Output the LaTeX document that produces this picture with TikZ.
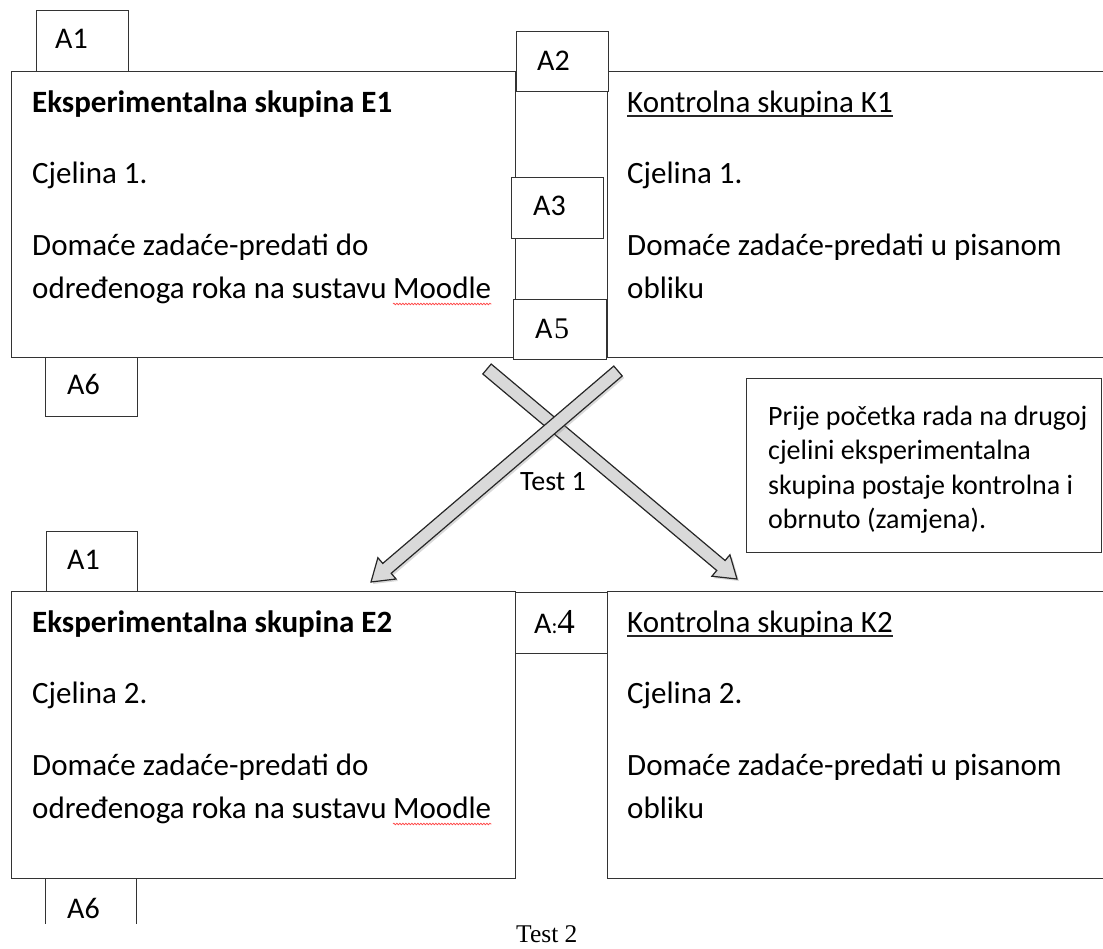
\documentclass[tikz,border=0pt]{standalone}
\usepackage{fontspec}
\setmainfont{Carlito}
\newfontfamily\tmr{Liberation Serif}
\usetikzlibrary{calc,shadows,decorations.pathmorphing}
\begin{document}
\begin{tikzpicture}[x=1pt,y=-1pt,
  frame/.style={draw=black!80, line width=1.3pt, fill=white, inner sep=0pt, anchor=north west},
  txt/.style={inner sep=0pt, anchor=base west, font=\fontsize{31}{37}\selectfont},
  lbl/.style={inner sep=0pt, anchor=base west, font=\fontsize{30}{36}\selectfont},
  ntxt/.style={inner sep=0pt, anchor=base west, font=\fontsize{28}{34}\selectfont},
  barrow/.style={draw=black!85, line width=1.2pt, fill=gray!30, line join=miter,
    drop shadow={opacity=0.3, shadow xshift=2pt, shadow yshift=-2pt}},
  squig/.style={draw=red!80, line width=0.6pt, decorate, decoration={snake, amplitude=0.9pt, segment length=3pt}},
  uline/.style={line width=1.2pt, draw=black!85},
]
\useasboundingbox (0,0) rectangle (1103,948);
\clip (0,0) rectangle (1103,948);

% ---------- top groups ----------
\node[frame, minimum width=504pt, minimum height=286pt] (e1) at (11,71) {};
\node[frame, minimum width=520pt, minimum height=286pt] (k1) at (607,71) {};
\node[frame, minimum width=92pt, minimum height=61pt] (a1t) at (36,10) {};
\node[frame, minimum width=92pt, minimum height=59pt] (a6t) at (45,357) {};
\node[frame, minimum width=92pt, minimum height=60pt] (a2) at (516,31) {};
\node[frame, minimum width=92pt, minimum height=61pt] (a3) at (511,177) {};
\node[frame, minimum width=93pt, minimum height=60pt] (a5) at (513,299) {};

\node[lbl] (a1tt) at ([shift={(19,38)}]a1t.north west) {A1};
\node[lbl] (a6tt) at ([shift={(22,37)}]a6t.north west) {A6};
\node[lbl] (a2tt) at ([shift={(21,39)}]a2.north west) {A2};
\node[lbl] (a3tt) at ([shift={(22,38)}]a3.north west) {A3};
\node[lbl] (a5tt) at ([shift={(22,39)}]a5.north west) {A\kern1.5pt{\tmr 5}};

\node[txt] (e1h) at (32,112) {\bfseries Eksperimentalna skupina E1};
\node[txt] (e1c) at (32,183) {Cjelina 1.};
\node[txt] (e1d) at (32,255) {Domaće zadaće-predati do};
\node[txt] (e1o) at (32,298) {određenoga roka na sustavu};
\node[txt] (e1m) at ([xshift=6pt]e1o.base east) {Moodle};
\draw[squig] ([yshift=-6pt]e1m.base west) -- ([yshift=-6pt]e1m.base east);

\node[txt] (k1h) at (627,112) {Kontrolna skupina K1};
\draw[uline] ([yshift=-4pt]k1h.base west) -- ([yshift=-4pt]k1h.base east);
\node[txt] (k1c) at (627,183) {Cjelina 1.};
\node[txt] (k1d) at (627,255) {Domaće zadaće-predati u pisanom};
\node[txt] (k1o) at (627,298) {obliku};

% ---------- note ----------
\node[frame, minimum width=355pt, minimum height=174pt] (note) at (746,378) {};
\node[ntxt] (n1) at (768,425) {Prije početka rada na drugoj};
\node[ntxt] (n2) at (768,459) {cjelini eksperimentalna};
\node[ntxt] (n3) at (768,494) {skupina postaje kontrolna i};
\node[ntxt] (n4) at (768,528) {obrnuto (zamjena).};

% ---------- bottom groups ----------
\node[frame, minimum width=504pt, minimum height=287pt] (e2) at (11,591) {};
\node[frame, minimum width=520pt, minimum height=287pt] (k2) at (607,591) {};
\node[frame, minimum width=91pt, minimum height=60pt] (a1b) at (46,531) {};
\node[frame, minimum width=92pt, minimum height=61pt] (a4) at (515,592) {};
\begin{scope}
  \clip (0,0) rectangle (1103,923);
  \node[frame, minimum width=91pt, minimum height=60pt] (a6b) at (45,878) {};
\end{scope}

\node[lbl] (a1bt) at ([shift={(21,38)}]a1b.north west) {A1};
\node[lbl] (a4t) at ([shift={(19,41)}]a4.north west) {A{\fontsize{22}{22}\selectfont:}{\tmr\fontsize{35}{35}\selectfont 4}};
\node[lbl] (a6bt) at ([shift={(22,40)}]a6b.north west) {A6};

\node[txt] (e2h) at (32,632) {\bfseries Eksperimentalna skupina E2};
\node[txt] (e2c) at (32,703) {Cjelina 2.};
\node[txt] (e2d) at (32,775) {Domaće zadaće-predati do};
\node[txt] (e2o) at (32,818) {određenoga roka na sustavu};
\node[txt] (e2m) at ([xshift=6pt]e2o.base east) {Moodle};
\draw[squig] ([yshift=-6pt]e2m.base west) -- ([yshift=-6pt]e2m.base east);

\node[txt] (k2h) at (627,632) {Kontrolna skupina K2};
\draw[uline] ([yshift=-4pt]k2h.base west) -- ([yshift=-4pt]k2h.base east);
\node[txt] (k2c) at (627,703) {Cjelina 2.};
\node[txt] (k2d) at (627,775) {Domaće zadaće-predati u pisanom};
\node[txt] (k2o) at (627,818) {obliku};

% ---------- crossing arrows ----------
\coordinate (ta) at (487,369);
\coordinate (ha) at (737,579);
\coordinate (ba) at ($(ha)!21pt!(ta)$);
\draw[barrow] ($(ta)!6.5pt!90:(ha)$) -- ($(ba)!6.5pt!-90:(ta)$) -- ($(ba)!14pt!-90:(ta)$) -- (ha)
  -- ($(ba)!14pt!90:(ta)$) -- ($(ba)!6.5pt!90:(ta)$) -- ($(ta)!6.5pt!-90:(ha)$) -- cycle;

\coordinate (tb) at (618,371);
\coordinate (hb) at (371,582);
\coordinate (bb) at ($(hb)!21pt!(tb)$);
\draw[barrow] ($(tb)!6.5pt!90:(hb)$) -- ($(bb)!6.5pt!-90:(tb)$) -- ($(bb)!14pt!-90:(tb)$) -- (hb)
  -- ($(bb)!14pt!90:(tb)$) -- ($(bb)!6.5pt!90:(tb)$) -- ($(tb)!6.5pt!-90:(hb)$) -- cycle;

\node[ntxt] (test1) at (520,490) {Test 1};
\node[inner sep=0pt, anchor=base west, font=\tmr\fontsize{25.5}{30}\selectfont] (test2) at (516,942) {Test 2};
\end{tikzpicture}
\end{document}
